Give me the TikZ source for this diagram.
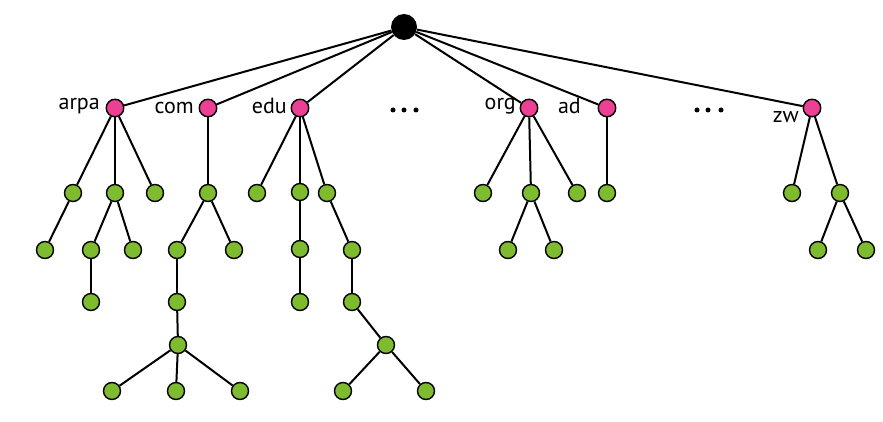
\documentclass[tikz,border=0pt]{standalone}
\usepackage{fontspec}
\setmainfont{PT Sans}
\usetikzlibrary{positioning}
\definecolor{cpink}{RGB}{236,64,148}
\definecolor{cgreen}{RGB}{127,187,47}
\tikzset{%
	rootnode/.style={%
			circle,%
			fill=black,%
			minimum size=26pt,%
			inner sep=0},%
	tldnode/.style={%
			circle,%
			draw,%
			line width=1.4pt,%
			fill=cpink,%
			minimum size=17.5pt,%
			inner sep=0},%
	leafnode/.style={%
			circle,%
			draw,%
			line width=1.4pt,%
			fill=cgreen,%
			minimum size=17pt,%
			inner sep=0},%
	tldlabel/.style={%
			font={\fontsize{22}{24}\selectfont},%
			anchor=east,%
			inner sep=0},%
	dotnode/.style={%
			circle,%
			fill=black,%
			minimum size=5pt,%
			inner sep=0},%
	link/.style={line width=2pt},%
}

\begin{document}
\begin{tikzpicture}[x=1pt, y=-1pt]%
	\useasboundingbox (0,0) rectangle (883,422);

	\node[rootnode] (root) at (404,27) {};

	% top level domains
	\node[tldnode] (arpa) at (115,108) {};
	\node[tldnode] (com) at (208,108) {};
	\node[tldnode] (edu) at (300,108) {};
	\node[tldnode] (org) at (529,108) {};
	\node[tldnode] (ad) at (607,108) {};
	\node[tldnode] (zw) at (812,108) {};

	\node[tldlabel] (arpalbl) at (100,106) {arpa};
	\node[tldlabel] (comlbl) at (194,108) {com};
	\node[tldlabel] (edulbl) at (287,106) {edu};
	\node[tldlabel] (orglbl) at (516,106) {org};
	\node[tldlabel] (adlbl) at (581,106) {ad};
	\node[tldlabel] (zwlbl) at (799,117) {zw};

	\node[dotnode] (dotsa1) at (393,110) {};
	\node[dotnode] (dotsa2) at (404,110) {};
	\node[dotnode] (dotsa3) at (416,110) {};
	\node[dotnode] (dotsb1) at (697,110) {};
	\node[dotnode] (dotsb2) at (708,110) {};
	\node[dotnode] (dotsb3) at (721,110) {};

	% arpa
	\node[leafnode] (a1) at (73,193) {};
	\node[leafnode] (a2) at (115,193) {};
	\node[leafnode] (a3) at (155,193) {};
	\node[leafnode] (a11) at (45,250) {};
	\node[leafnode] (a21) at (91,250) {};
	\node[leafnode] (a22) at (133,250) {};
	\node[leafnode] (a211) at (91,302) {};

	% com
	\node[leafnode] (c1) at (208,193) {};
	\node[leafnode] (c11) at (177,250) {};
	\node[leafnode] (c12) at (234,250) {};
	\node[leafnode] (c111) at (177,302) {};
	\node[leafnode] (c1111) at (178,345) {};
	\node[leafnode] (c11111) at (112,391) {};
	\node[leafnode] (c11112) at (176,391) {};
	\node[leafnode] (c11113) at (240,391) {};

	% edu
	\node[leafnode] (e1) at (257,193) {};
	\node[leafnode] (e2) at (300,192) {};
	\node[leafnode] (e3) at (327,193) {};
	\node[leafnode] (e21) at (300,249) {};
	\node[leafnode] (e211) at (300,302) {};
	\node[leafnode] (e31) at (352,250) {};
	\node[leafnode] (e311) at (352,302) {};
	\node[leafnode] (e3111) at (386,345) {};
	\node[leafnode] (e31111) at (343,391) {};
	\node[leafnode] (e31112) at (426,391) {};

	% org
	\node[leafnode] (o1) at (483,193) {};
	\node[leafnode] (o2) at (531,193) {};
	\node[leafnode] (o3) at (577,193) {};
	\node[leafnode] (o21) at (508,250) {};
	\node[leafnode] (o22) at (554,250) {};

	% ad
	\node[leafnode] (d1) at (607,193) {};

	% zw
	\node[leafnode] (z1) at (792,193) {};
	\node[leafnode] (z2) at (840,193) {};
	\node[leafnode] (z21) at (818,250) {};
	\node[leafnode] (z22) at (866,250) {};

	\foreach \a/\b in {root/arpa, root/com, root/edu, root/org, root/ad, root/zw,%
			arpa/a1, arpa/a2, arpa/a3, a1/a11, a2/a21, a2/a22, a21/a211,%
			com/c1, c1/c11, c1/c12, c11/c111, c111/c1111, c1111/c11111, c1111/c11112, c1111/c11113,%
			edu/e1, edu/e2, edu/e3, e2/e21, e21/e211, e3/e31, e31/e311, e311/e3111, e3111/e31111, e3111/e31112,%
			org/o1, org/o2, org/o3, o2/o21, o2/o22,%
			ad/d1,%
			zw/z1, zw/z2, z2/z21, z2/z22}
		\draw[link] (\a) -- (\b);
\end{tikzpicture}
\end{document}
